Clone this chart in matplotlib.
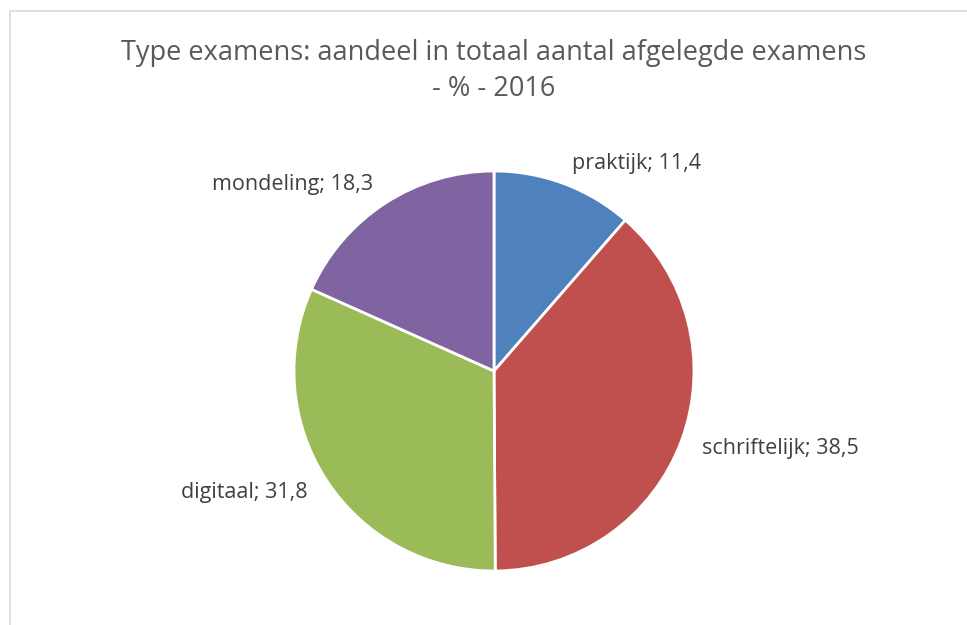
import matplotlib.pyplot as plt
from matplotlib.patches import Rectangle

# data
categories = ["praktijk", "schriftelijk", "digitaal", "mondeling"]
values = [11.4, 38.5, 31.8, 18.3]
colors = ["#4F81BD", "#C0504D", "#9BBB59", "#8064A2"]
title = "Type examens: aandeel in totaal aantal afgelegde examens\n- % - 2016"

plt.rcParams['font.family'] = ['Open Sans', 'DejaVu Sans']

W, H = 967, 625
fig = plt.figure(figsize=(W / 100, H / 100), dpi=100)

# chart area border (only left/top visible)
fig.patches.append(Rectangle((10 / W, -0.1), 1.2, (H - 11) / H + 0.1, transform=fig.transFigure,
                             fill=False, edgecolor="#D9D9D9", linewidth=1.2))

cx, cy, r = 494, 371, 200
ax = fig.add_axes([(cx - r) / W, (H - cy - r) / H, 2 * r / W, 2 * r / H])
labels = [f"{c}; {v}".replace(".", ",") for c, v in zip(categories, values)]
pie = ax.pie(values, labels=labels, colors=colors, startangle=90, counterclock=False,
             radius=1, labeldistance=1.11,
             wedgeprops=dict(edgecolor="white", linewidth=2),
             textprops=dict(color="#404040", fontsize=15.5))
ax.set_xlim(-1, 1)
ax.set_ylim(-1, 1)
ax.set_aspect("equal")
ax.axis("off")

fig.text(494 / W, 1 - 71 / H, title, ha="center", va="center", fontsize=19.5,
         color="#595959", linespacing=1.35)

fig.savefig("out.png", dpi=100)
